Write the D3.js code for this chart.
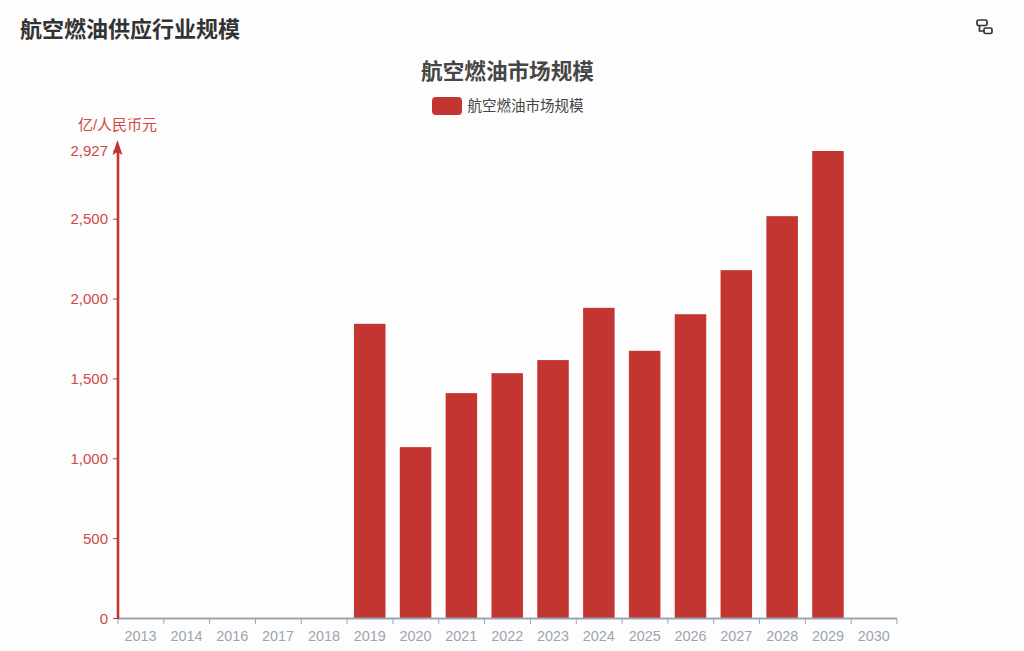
<!DOCTYPE html>
<html><head><meta charset="utf-8">
<style>html,body{margin:0;padding:0;background:#fdfdfd}svg{display:block}text{font-family:"Liberation Sans","Noto Sans CJK SC",sans-serif}</style>
<script src="https://cdnjs.cloudflare.com/ajax/libs/d3/7.8.5/d3.min.js"></script>
</head><body><svg id="c" width="1024" height="651"></svg>
<script>
const pageTitle="航空燃油供应行业规模";
const chartTitle="航空燃油市场规模";
const seriesName="航空燃油市场规模";
const unitLabel="亿/人民币元";
const years=["2013","2014","2016","2017","2018","2019","2020","2021","2022","2023","2024","2025","2026","2027","2028","2029","2030"];
const values=[null,null,null,null,null,1845,1073,1411,1536,1618,1945,1676,1905,2181,2519,2927,null];
const yTicks=[0,500,1000,1500,2000,2500,2927];
const red="#c23531", grey="#9aa5b1", redText="#cf4a45";
const svg=d3.select("#c");
const x=d3.scaleBand().domain(years).range([118,897]);
const y=d3.scaleLinear().domain([0,2927]).range([618.5,151]);

svg.append("text").attr("x",20).attr("y",37).attr("font-size",22).attr("font-weight",700).attr("fill","#333").text(pageTitle);
svg.append("text").attr("x",507.5).attr("y",79).attr("text-anchor","middle").attr("font-size",21.6).attr("font-weight",700).attr("fill","#464646").text(chartTitle);

// legend
svg.append("rect").attr("x",432).attr("y",97).attr("width",30).attr("height",18).attr("rx",4).attr("fill",red);
svg.append("text").attr("x",467.5).attr("y",111).attr("font-size",14.5).attr("fill","#444").text(seriesName);

// icon
const icon=svg.append("g").attr("fill","none").attr("stroke","#333").attr("stroke-width",1.7);
icon.append("rect").attr("x",977).attr("y",20).attr("width",10).attr("height",5.5).attr("rx",1.5);
icon.append("rect").attr("x",984).attr("y",28).attr("width",8).attr("height",5.5).attr("rx",1.5);
icon.append("path").attr("d","M979.5 25.5V31H984");

// bars
const bw=31.5;
svg.append("g").selectAll("rect").data(years.map((d,i)=>({d,v:values[i]})).filter(e=>e.v!=null)).join("rect")
 .attr("x",e=>x(e.d)+x.bandwidth()/2-bw/2-0.3).attr("width",bw)
 .attr("y",e=>y(e.v)).attr("height",e=>y(0)-y(e.v)).attr("fill",red);

// x axis
const gx=svg.append("g").attr("transform","translate(0,618.5)");
gx.append("line").attr("x1",118).attr("x2",897).attr("stroke",grey).attr("stroke-width",2.2);
const edges=years.map(d=>x(d)).concat([x.range()[1]]);
gx.selectAll("line.t").data(edges).join("line").attr("class","t").attr("x1",d=>d).attr("x2",d=>d).attr("y1",0).attr("y2",5.5).attr("stroke",grey);
gx.selectAll("text").data(years).join("text").attr("x",d=>x(d)+x.bandwidth()/2-0.3).attr("y",22).attr("text-anchor","middle").attr("font-size",14.4).attr("fill",grey).text(d=>d);

// y axis
const gy=svg.append("g");
gy.append("line").attr("x1",118).attr("x2",118).attr("y1",619).attr("y2",150).attr("stroke",red).attr("stroke-width",2.6);
gy.append("path").attr("d",d3.line()([[117.5,140],[122.5,155],[117.5,152],[112.5,155]])+"Z").attr("fill",red);
gy.selectAll("line.t").data(yTicks).join("line").attr("class","t").attr("x1",113).attr("x2",118).attr("y1",d=>y(d)).attr("y2",d=>y(d)).attr("stroke",red);
gy.selectAll("text.t").data(yTicks).join("text").attr("class","t").attr("x",108).attr("y",d=>y(d)+5).attr("text-anchor","end").attr("font-size",15).attr("fill",redText).text(d=>d3.format(",")(d));
svg.append("text").attr("x",117.5).attr("y",130).attr("text-anchor","middle").attr("font-size",15).attr("fill",redText).text(unitLabel);
</script></body></html>
